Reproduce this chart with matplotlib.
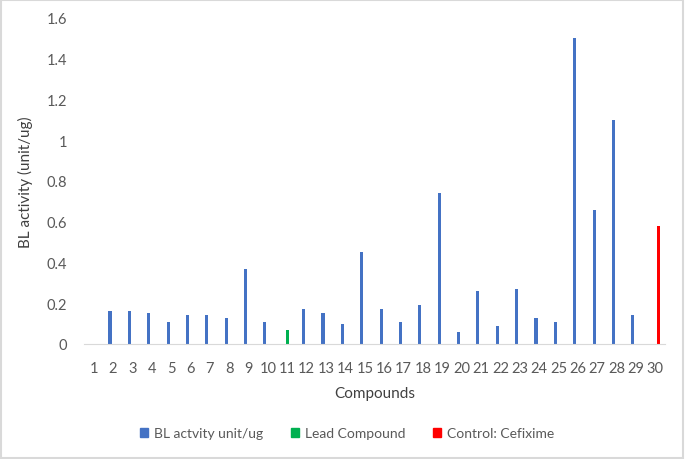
import matplotlib
matplotlib.use("Agg")
import matplotlib.pyplot as plt
from matplotlib.patches import Patch, Rectangle
import numpy as np

plt.rcParams['font.family'] = ['Lato', 'DejaVu Sans']

compounds = list(range(1, 31))
bl_activity = [0, 0.16, 0.16, 0.15, 0.11, 0.14, 0.14, 0.13, 0.37, 0.11,
               0, 0.17, 0.15, 0.10, 0.45, 0.17, 0.11, 0.19, 0.74, 0.06,
               0.26, 0.09, 0.27, 0.13, 0.11, 1.50, 0.66, 1.10, 0.14, 0]
lead_compound = [0] * 10 + [0.07] + [0] * 19
control_cefixime = [0] * 29 + [0.58]

series_names = ["BL actvity unit/ug", "Lead Compound", "Control: Cefixime"]
colors = ["#4472C4", "#00B050", "#FF0000"]

fig = plt.figure(figsize=(6.85, 4.6), dpi=100)
ax = fig.add_axes([84 / 685, 1 - 345 / 460, (665 - 84) / 685, (345 - 19) / 460])

x = np.array(compounds)
w = 0.16
ax.bar(x - w, bl_activity, width=w, color=colors[0])
ax.bar(x, lead_compound, width=w, color=colors[1])
ax.bar(x + w, control_cefixime, width=w, color=colors[2])

ax.set_xlim(0.5, 30.5)
ax.set_ylim(0, 1.6)
ax.set_yticks(np.arange(0, 1.61, 0.2))
ax.set_yticklabels(["0", "0.2", "0.4", "0.6", "0.8", "1", "1.2", "1.4", "1.6"])
ax.set_xticks(x)
ax.set_xticklabels([str(c) for c in compounds])
ax.tick_params(axis='both', length=0, labelsize=10.5, colors="#595959")
ax.tick_params(axis='x', pad=12)
ax.tick_params(axis='y', pad=12)

for s in ["top", "right", "left"]:
    ax.spines[s].set_visible(False)
ax.spines["bottom"].set_color("#d9d9d9")

ax.set_ylabel("BL activity (unit/ug)", fontsize=11, color="#404040", labelpad=10)
ax.set_xlabel("Compounds", fontsize=11, color="#404040", labelpad=8)

handles = [Patch(color=c, label=n) for c, n in zip(colors, series_names)]
fig.legend(handles=handles, loc="center", bbox_to_anchor=(347 / 685, 1 - 434 / 460),
           ncol=3, frameon=False, fontsize=10, labelcolor="#595959",
           handlelength=0.6, handleheight=0.6, handletextpad=0.4, columnspacing=2.0)

fig.patches.append(Rectangle((0.002, 0.003), 0.995, 0.994, transform=fig.transFigure,
                             fill=False, edgecolor="#d9d9d9", linewidth=1.5))

fig.savefig("out.png", dpi=100)
